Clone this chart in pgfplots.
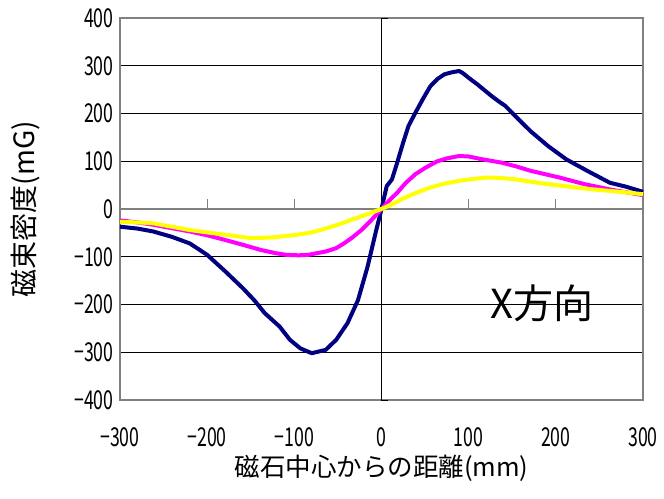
\documentclass[border=0pt]{standalone}
\usepackage{pgfplots}
\pgfplotsset{compat=1.18}
\usepackage{fontspec}
\setmainfont{Noto Sans CJK JP}
\newfontfamily\narrow{Noto Sans CJK JP}[FakeStretch=0.68]
\definecolor{navy}{HTML}{000080}
\definecolor{mag}{HTML}{FF00FF}
\definecolor{yel}{HTML}{FFFF00}
\definecolor{frame}{HTML}{808080}
\begin{document}
\begin{tikzpicture}
\useasboundingbox (-120bp,-99bp) rectangle (544bp,400bp);
\begin{axis}[
  scale only axis, width=523bp, height=382bp,
  xmin=-300, xmax=300, ymin=-400, ymax=400,
  xtick={-300,-200,...,300},
  xticklabels={−300,−200,−100,0,100,200,300},
  ytick={-400,-300,...,400},
  yticklabels={−400,−300,−200,−100,0,100,200,300,400},
  major tick length=0pt,
  ymajorgrids, major grid style={black, line width=0.8bp},
  axis line style={frame, line width=1.6bp},
  tick label style={font=\narrow\fontsize{26bp}{28bp}\selectfont},
  xticklabel style={yshift=-24bp},
  yticklabel style={xshift=-3bp},
  xlabel={磁石中心からの距離(mm)},
  ylabel={磁束密度(mG)},
  xlabel style={font=\fontsize{25.5bp}{28bp}\selectfont, at={(axis description cs:0.5,0)}, anchor=center, yshift=-68bp},
  ylabel style={font=\fontsize{28bp}{30bp}\selectfont, at={(axis description cs:-0.18,0.5)}, anchor=center},
  clip=false,
]
\draw[black, line width=0.8bp] (axis cs:0,-400) -- (axis cs:0,400);
\draw[frame, line width=1.6bp] (axis cs:-300,0) -- (axis cs:300,0);
\draw[black, line width=0.8bp] (axis cs:0,-400) -- (axis cs:8,-400);
\draw[black, line width=0.8bp] (axis cs:0,-300) -- (axis cs:8,-300);
\draw[black, line width=0.8bp] (axis cs:0,-200) -- (axis cs:8,-200);
\draw[black, line width=0.8bp] (axis cs:0,-100) -- (axis cs:8,-100);
\draw[black, line width=0.8bp] (axis cs:0,100) -- (axis cs:8,100);
\draw[black, line width=0.8bp] (axis cs:0,200) -- (axis cs:8,200);
\draw[black, line width=0.8bp] (axis cs:0,300) -- (axis cs:8,300);
\draw[black, line width=0.8bp] (axis cs:0,400) -- (axis cs:8,400);
\draw[frame, line width=1.2bp] (axis cs:-200,0) -- (axis cs:-200,21);
\draw[frame, line width=1.2bp] (axis cs:-100,0) -- (axis cs:-100,21);
\draw[frame, line width=1.2bp] (axis cs:100,0) -- (axis cs:100,21);
\draw[frame, line width=1.2bp] (axis cs:200,0) -- (axis cs:200,21);
% blue
\addplot[navy, line width=4bp, line join=round] coordinates {
(-300,-37) (-280,-41) (-262,-47) (-241,-58) (-220,-72) (-200,-96) (-179,-131)
(-159,-166) (-146,-191) (-134,-218) (-117,-246) (-105,-274) (-93,-292) (-80,-302)
(-64,-295) (-52,-274) (-39,-239) (-27,-191) (-16,-121) (-6,-44) (0,0)
(6,48) (12,62) (18,97) (25,140) (31,174) (39,202) (48,232) (56,257) (64,272) (72,282) (80,286) (89,289)
(93,285) (102,272) (110,261) (126,237) (134,226) (142,216) (156,190) (171,163) (191,132)
(212,104) (236,80) (262,55) (280,47) (300,36)
};
% magenta
\addplot[mag, line width=4bp, line join=round] coordinates {
(-300,-24) (-280,-28) (-262,-33) (-241,-40) (-220,-47) (-200,-55) (-179,-65) (-159,-75)
(-138,-86) (-120,-93) (-109,-96) (-95,-97) (-84,-96) (-64,-89) (-52,-82) (-43,-72) (-33,-59) (-23,-44) (-12,-24) (0,0)
(10,20) (18,34) (28,55) (39,73) (50,86) (64,100) (75,106) (89,111) (100,110) (113,105)
(138,97) (155,89) (171,80) (204,66) (233,52) (262,41) (300,29)
};
% yellow
\addplot[yel, line width=4bp, line join=round] coordinates {
(-300,-27) (-280,-28) (-262,-30) (-241,-37) (-220,-44) (-200,-49) (-179,-54) (-150,-61)
(-130,-60) (-117,-58) (-97,-54) (-80,-49) (-68,-43) (-50,-33) (-35,-23) (-18,-12) (0,0)
(12,10) (27,24) (40,34) (56,45) (72,53) (89,59) (105,63) (122,66) (138,65) (154,62)
(172,57) (191,52) (210,48) (233,43) (255,39) (274,36) (300,31)
};
\node[font=\fontsize{40bp}{44bp}\selectfont, anchor=center] at (axis cs:184,-197) {X方向};
\end{axis}
\end{tikzpicture}
\end{document}
